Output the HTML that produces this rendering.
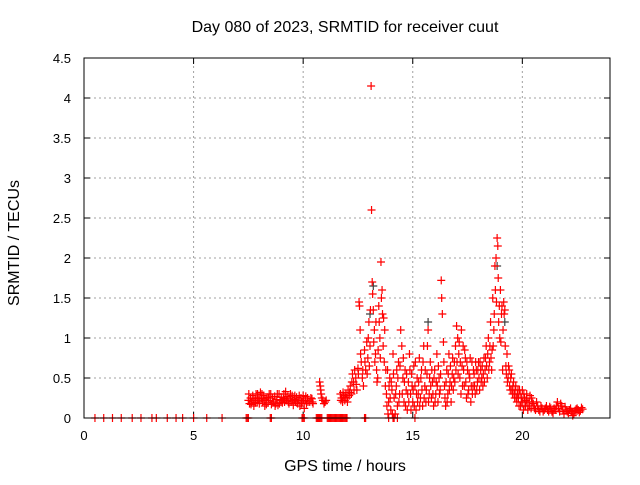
<!DOCTYPE html>
<html><head><meta charset="utf-8"><style>
body{margin:0;background:#fff}
svg text{font-family:"Liberation Sans",sans-serif;font-size:13px;fill:#000}
svg text.big{font-size:16px}
</style></head><body>
<svg width="640" height="480" xmlns="http://www.w3.org/2000/svg">
<text class="big" x="345" y="32" text-anchor="middle">Day 080 of 2023, SRMTID for receiver cuut</text>
<g id="grid"></g>
<g id="axes"></g>
<g id="marks"></g>
<rect x="84" y="58" width="526" height="360" fill="none" stroke="#000" stroke-width="1"/>
<text class="big" x="345" y="471" text-anchor="middle">GPS time / hours</text>
<text class="big" transform="translate(19,243) rotate(-90)" text-anchor="middle">SRMTID / TECUs</text>
</svg>
<script>
const xTicks=[0,5,10,15,20];
const yTicks=[0,0.5,1,1.5,2,2.5,3,3.5,4,4.5];
const yTickLabels=["0","0.5","1","1.5","2","2.5","3","3.5","4","4.5"];
const zeroTimes=[0.5,0.9,1.3,1.7,2.2,2.6,3.1,3.3,3.8,4.2,4.5,5.0,5.6,6.3,7.4,7.45,7.5,8.5,8.55,9.95,10.0,10.05,10.6,10.65,10.7,10.75,10.8,10.85,11.1,11.15,11.2,11.25,11.3,11.35,11.4,11.45,11.5,11.55,11.6,11.65,11.7,11.75,11.8,11.85,11.9,11.95,12.0,12.8,12.85,13.9,14.1,14.15,14.3,15.1];
const redSeries=[[7.5,.22],[7.55,.18],[7.6,.25],[7.65,.2],[7.7,.28],[7.75,.15],[7.8,.22],[7.85,.3],[7.9,.2],[7.95,.25],[8.0,.18],[8.05,.32],[8.1,.24],[8.15,.2],[8.2,.28],[8.25,.15],[8.3,.22],[8.35,.26],[8.4,.19],[8.45,.3],[8.5,.22],[8.55,.17],[8.6,.25],[8.65,.2],[8.7,.27],[8.75,.18],[8.8,.23],[8.85,.16],[8.9,.3],[8.95,.22],[9.0,.26],[9.05,.19],[9.1,.24],[9.15,.2],[9.2,.33],[9.25,.22],[9.3,.27],[9.35,.18],[9.4,.25],[9.45,.2],[9.5,.28],[9.55,.16],[9.6,.23],[9.65,.2],[9.7,.26],[9.75,.18],[9.8,.22],[9.85,.15],[9.9,.25],[9.95,.2],[10.0,.28],[10.05,.12],[10.1,.22],[10.15,.18],[10.2,.25],[10.3,.2],[10.4,.24],[10.45,.18],
[10.75,.45],[10.78,.4],[10.8,.35],[10.82,.3],[10.85,.25],[10.9,.22],[10.95,.18],[11.0,.2],[11.05,.22],
[11.7,.3],[11.75,.25],[11.8,.2],[11.85,.28],[11.9,.22],[11.95,.3],[12.0,.25],[12.05,.35],[12.1,.28],[12.15,.4],[12.2,.3],[12.25,.55],[12.3,.45],[12.35,.6],[12.4,.5],[12.45,.35],[12.5,.62],[12.55,1.45],[12.6,1.1],[12.65,.7],[12.7,.5],[12.75,.4],[12.8,.85],[12.85,.6],[12.9,.95],[12.95,.75],[13.0,1.2],[13.05,.9],[13.1,4.15],[13.12,2.6],[13.15,1.7],[13.2,1.35],[13.25,1.1],[13.3,.8],[13.35,.6],[13.4,.5],[13.45,1.4],[13.5,1.0],[13.55,1.95],[13.6,1.6],[13.62,1.3],[13.65,.9],[13.7,.7],[13.72,1.1],[13.75,.4],[13.8,.3],[13.85,.6],[13.9,.2],[13.95,.5],[14.0,.1],[14.05,.35],[14.1,.8],[14.15,.25],[14.2,.05],[14.25,.4],[14.3,.15],[14.35,.7],[14.4,.3],[14.45,1.1],[14.5,.9],[14.55,.5],[14.6,.2],[14.65,.6],[14.7,.35],[14.75,.1],[14.8,.45],[14.85,.8],[14.9,.3],[14.95,.55],[15.0,.2],[15.05,.65],[15.1,.4],[15.15,.1],[15.2,.5],[15.25,.3],[15.3,.75],[15.35,.25],[15.4,.6],[15.45,.15],[15.5,.9],[15.55,.4],[15.6,.2],[15.65,.55],[15.7,1.1],[15.75,.3],[15.8,.7],[15.85,.25],[15.9,.45],[15.95,.15],[16.0,.6],[16.05,.3],[16.1,.8],[16.15,.2],[16.2,.5],[16.25,.35],[16.3,1.72],[16.32,1.5],[16.35,1.3],[16.4,.95],[16.45,.4],[16.5,.15],[16.55,.6],[16.6,.3],[16.65,.8],[16.7,.45],[16.75,.2],[16.8,.55],[16.85,.35],[16.9,.7],[16.95,.9],[17.0,1.15],[17.05,1.0],[17.1,.8],[17.15,.5],[17.2,.3],[17.25,.65],[17.3,.9],[17.35,.4],[17.4,.75],[17.45,.25],[17.5,.6],[17.55,.35],[17.6,.5],[17.65,.2],[17.7,.7],[17.75,.4],[17.8,.55],[17.85,.3],[17.9,.6],[17.95,.45],[18.0,.7],[18.05,.35],[18.1,.6],[18.15,.5],[18.2,.4],[18.25,.75],[18.3,.6],[18.35,.9],[18.4,.5],[18.45,1.0],[18.5,.7],[18.55,1.2],[18.6,.6],[18.65,1.5],[18.7,1.1],[18.75,1.9],[18.8,2.0],[18.85,2.25],[18.88,2.15],[18.9,1.75],[18.95,1.4],[19.0,1.6],[19.05,1.3],[19.1,.6],[19.15,1.45],[19.2,1.35],[19.25,.65],[19.3,.8],[19.35,.5],[19.4,.6],[19.45,.35],[19.5,.55],[19.55,.3],[19.6,.45],[19.65,.25],[19.7,.4],[19.75,.2],[19.8,.35],[19.85,.15],[19.9,.3],[19.95,.2],[20.0,.35],[20.05,.1],[20.1,.25],[20.15,.15],[20.2,.3],[20.25,.1],[20.3,.2],[20.35,.28],[20.4,.12],[20.5,.18],[20.6,.1],[20.7,.15],[20.8,.08],[20.9,.12],[21.0,.1],[21.1,.15],[21.2,.08],[21.3,.12],[21.4,.06],[21.5,.1],[21.6,.2],[21.7,.08],[21.8,.15],[21.9,.05],[22.0,.1],[22.1,.06],[22.2,.12],[22.3,.03],[22.4,.09],[22.5,.12],[22.6,.07],[22.7,.13]];
const redExtra=[[7.52,.3],[7.62,.17],[7.72,.24],[7.82,.19],[7.92,.3],[8.02,.25],[8.12,.3],[8.22,.22],[8.32,.17],[8.42,.25],[8.52,.3],[8.62,.2],[8.72,.15],[8.82,.3],[8.92,.18],[9.02,.22],[9.12,.3],[9.22,.25],[9.32,.2],[9.42,.3],[9.52,.22],[9.62,.28],[9.72,.22],[9.82,.28],[9.92,.18],[10.02,.22],[10.12,.27],[10.22,.2],[10.35,.25],[10.42,.2],
[11.72,.22],[11.82,.32],[11.92,.26],[12.02,.2],[12.12,.32],[12.22,.45],[12.32,.35],[12.42,.42],[12.52,.55],[12.57,1.4],[12.62,.8],[12.72,.6],[12.82,.7],[12.92,.55],[12.97,1.0],[13.02,.65],[13.07,1.35],[13.17,1.55],[13.22,.95],[13.27,.7],[13.32,1.2],[13.37,.45],[13.42,.85],[13.47,1.2],[13.52,.75],[13.57,1.5],[13.67,1.25],[13.77,.6],[13.82,.15],[13.87,.05],[13.92,.4],[13.97,.25],[14.02,.45],[14.07,.05],[14.12,.55],[14.22,.3],[14.27,.6],[14.32,.5],[14.37,.2],[14.42,.65],[14.52,.3],[14.57,.75],[14.62,.45],[14.67,.15],[14.72,.55],[14.77,.3],[14.82,.2],[14.87,.6],[14.92,.1],[14.97,.4],[15.02,.35],[15.07,.15],[15.12,.7],[15.17,.3],[15.22,.2],[15.27,.45],[15.32,.15],[15.37,.5],[15.42,.35],[15.47,.7],[15.52,.25],[15.57,.6],[15.62,.35],[15.67,.9],[15.72,.2],[15.77,.5],[15.82,.4],[15.87,.6],[15.92,.3],[15.97,.5],[16.02,.2],[16.07,.45],[16.12,.4],[16.17,.65],[16.22,.3],[16.27,.55],[16.42,.7],[16.47,.25],[16.52,.45],[16.57,.2],[16.62,.55],[16.67,.35],[16.72,.65],[16.77,.4],[16.82,.75],[16.87,.5],[16.92,.45],[16.97,.6],[17.02,.7],[17.07,.55],[17.12,.95],[17.17,.7],[17.22,1.1],[17.27,.4],[17.32,.6],[17.37,.85],[17.42,.45],[17.47,.7],[17.52,.3],[17.57,.55],[17.62,.75],[17.67,.4],[17.72,.3],[17.77,.6],[17.82,.4],[17.87,.7],[17.92,.35],[17.97,.6],[18.02,.5],[18.07,.7],[18.12,.45],[18.17,.65],[18.22,.55],[18.27,.45],[18.32,.75],[18.37,.65],[18.42,.8],[18.47,.6],[18.52,.9],[18.57,.75],[18.62,.85],[18.67,.9],[18.72,1.3],[18.77,1.6],[18.82,1.45],[18.92,1.2],[18.97,1.0],[19.02,.95],[19.07,1.4],[19.12,1.1],[19.17,1.3],[19.22,.9],[19.27,.55],[19.32,.45],[19.37,.65],[19.42,.4],[19.47,.5],[19.52,.35],[19.57,.4],[19.62,.3],[19.67,.35],[19.72,.25],[19.77,.3],[19.82,.25],[19.87,.35],[19.92,.15],[19.97,.25],[20.02,.2],[20.07,.3],[20.12,.15],[20.17,.22],[20.22,.2],[20.32,.15],[20.42,.25],[20.45,.2],[20.55,.12],[20.65,.2],[20.75,.1],[20.85,.15],[20.95,.08],[21.05,.12],[21.15,.1],[21.25,.14],[21.35,.08],[21.45,.12],[21.55,.15],[21.65,.12],[21.75,.18],[21.85,.1],[21.95,.14],[22.05,.08],[22.15,.1],[22.25,.08],[22.35,.05],[22.45,.11],[22.55,.1],[22.65,.09],[22.75,.11]];
const darkSeries=[[13.2,1.65],[15.7,1.2],[18.85,1.9],[19.2,1.2],[13.05,1.3]];
const X0=84,X1=610,Y0=418,Y1=58,XMAX=24,YMAX=4.5;
function xs(t){return X0+(X1-X0)*t/XMAX;}
function ys(v){return Y0-(Y0-Y1)*v/YMAX;}
const NS="http://www.w3.org/2000/svg";
function mk(tag,at,parent){const e=document.createElementNS(NS,tag);for(const k in at)e.setAttribute(k,at[k]);parent.appendChild(e);return e;}
const grid=document.getElementById('grid'),axes=document.getElementById('axes'),marks=document.getElementById('marks');
xTicks.forEach(t=>{const x=xs(t);
 if(t>0){const g=mk('line',{x1:x,x2:x,y1:Y0,y2:Y1,stroke:'#a0a0a0','stroke-dasharray':'2,3'},grid);
 
 }
 mk('line',{x1:x,x2:x,y1:Y0,y2:Y0-6,stroke:'#000'},axes);mk('line',{x1:x,x2:x,y1:Y1,y2:Y1+6,stroke:'#000'},axes);
 const l=mk('text',{x:x,y:Y0+22,'text-anchor':'middle'},axes);l.textContent=t;
 
 });
yTicks.forEach((v,i)=>{const y=ys(v);
 if(v>0&&v<YMAX){const g=mk('line',{x1:X0,x2:X1,y1:y,y2:y,stroke:'#a0a0a0','stroke-dasharray':'2,3'},grid);
 
 }
 mk('line',{x1:X0,x2:X0+6,y1:y,y2:y,stroke:'#000'},axes);mk('line',{x1:X1,x2:X1-6,y1:y,y2:y,stroke:'#000'},axes);
 const l=mk('text',{x:71,y:y+5,'text-anchor':'end'},axes);l.textContent=yTickLabels[i];
 
 });
function plus(t,v,col){const x=xs(t),y=ys(v);
 const p=mk('path',{d:`M${x-4},${y}H${x+4}M${x},${y-4}V${y+4}`,stroke:col,'stroke-width':1.2,fill:'none'},marks);
 
 }
darkSeries.forEach(d=>plus(d[0],d[1],'#404040'));
zeroTimes.forEach(t=>plus(t,0,'#ff0000'));
redSeries.forEach(d=>plus(d[0],d[1],'#ff0000'));
redExtra.forEach(d=>plus(d[0],d[1],'#ff0000'));
</script>
</body></html>
